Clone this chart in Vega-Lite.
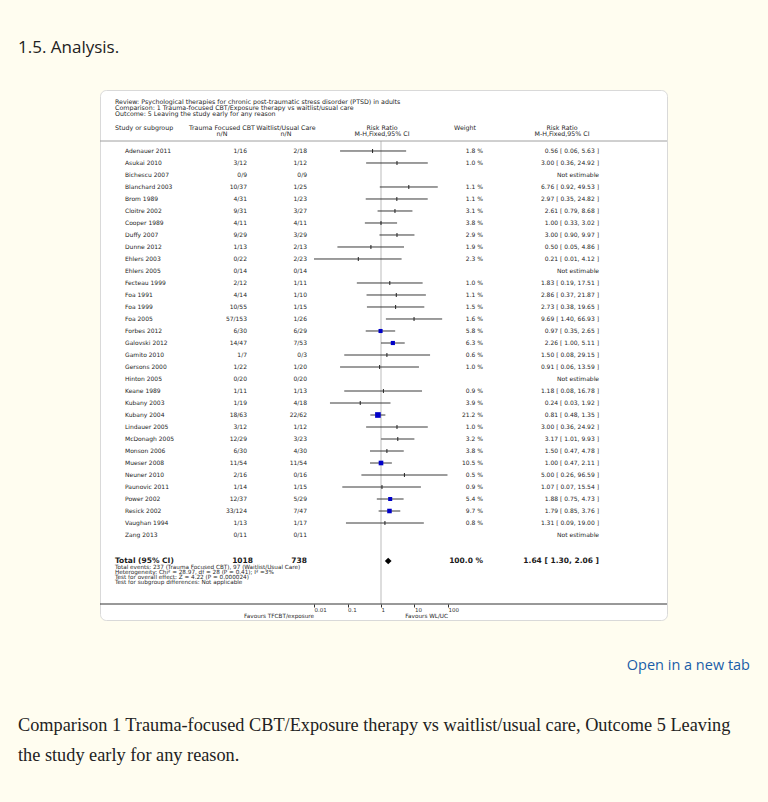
{
  "$schema": "https://vega.github.io/schema/vega-lite/v6.json",
  "background": "#fffdf0",
  "padding": {"top": 38, "left": 0, "right": 0, "bottom": 0},
  "title": {"text": "1.5. Analysis.", "anchor": "start", "dx": 18, "offset": 33, "font": "Open Sans", "fontSize": 17, "fontWeight": "normal", "color": "#222222"},
  "spacing": 0,
  "center": true,
  "config": {"view": {"stroke": null}, "text": {"font": "DejaVu Sans"}},
  "datasets": {
    "studies": [
      {"line": 1, "study": "Adenauer 2011", "tf": "1/16", "wl": "2/18", "rr": 0.56, "lo": 0.06, "hi": 5.63, "wt": 1.8, "wtxt": "1.8 %", "ci": "0.56 [ 0.06, 5.63 ]"},
      {"line": 2, "study": "Asukai 2010", "tf": "3/12", "wl": "1/12", "rr": 3.00, "lo": 0.36, "hi": 24.92, "wt": 1.0, "wtxt": "1.0 %", "ci": "3.00 [ 0.36, 24.92 ]"},
      {"line": 3, "study": "Bichescu 2007", "tf": "0/9", "wl": "0/9", "rr": null, "lo": null, "hi": null, "wt": null, "wtxt": "", "ci": "Not estimable"},
      {"line": 4, "study": "Blanchard 2003", "tf": "10/37", "wl": "1/25", "rr": 6.76, "lo": 0.92, "hi": 49.53, "wt": 1.1, "wtxt": "1.1 %", "ci": "6.76 [ 0.92, 49.53 ]"},
      {"line": 5, "study": "Brom 1989", "tf": "4/31", "wl": "1/23", "rr": 2.97, "lo": 0.35, "hi": 24.82, "wt": 1.1, "wtxt": "1.1 %", "ci": "2.97 [ 0.35, 24.82 ]"},
      {"line": 6, "study": "Cloitre 2002", "tf": "9/31", "wl": "3/27", "rr": 2.61, "lo": 0.79, "hi": 8.68, "wt": 3.1, "wtxt": "3.1 %", "ci": "2.61 [ 0.79, 8.68 ]"},
      {"line": 7, "study": "Cooper 1989", "tf": "4/11", "wl": "4/11", "rr": 1.00, "lo": 0.33, "hi": 3.02, "wt": 3.8, "wtxt": "3.8 %", "ci": "1.00 [ 0.33, 3.02 ]"},
      {"line": 8, "study": "Duffy 2007", "tf": "9/29", "wl": "3/29", "rr": 3.00, "lo": 0.90, "hi": 9.97, "wt": 2.9, "wtxt": "2.9 %", "ci": "3.00 [ 0.90, 9.97 ]"},
      {"line": 9, "study": "Dunne 2012", "tf": "1/13", "wl": "2/13", "rr": 0.50, "lo": 0.05, "hi": 4.86, "wt": 1.9, "wtxt": "1.9 %", "ci": "0.50 [ 0.05, 4.86 ]"},
      {"line": 10, "study": "Ehlers 2003", "tf": "0/22", "wl": "2/23", "rr": 0.21, "lo": 0.01, "hi": 4.12, "wt": 2.3, "wtxt": "2.3 %", "ci": "0.21 [ 0.01, 4.12 ]"},
      {"line": 11, "study": "Ehlers 2005", "tf": "0/14", "wl": "0/14", "rr": null, "lo": null, "hi": null, "wt": null, "wtxt": "", "ci": "Not estimable"},
      {"line": 12, "study": "Fecteau 1999", "tf": "2/12", "wl": "1/11", "rr": 1.83, "lo": 0.19, "hi": 17.51, "wt": 1.0, "wtxt": "1.0 %", "ci": "1.83 [ 0.19, 17.51 ]"},
      {"line": 13, "study": "Foa 1991", "tf": "4/14", "wl": "1/10", "rr": 2.86, "lo": 0.37, "hi": 21.87, "wt": 1.1, "wtxt": "1.1 %", "ci": "2.86 [ 0.37, 21.87 ]"},
      {"line": 14, "study": "Foa 1999", "tf": "10/55", "wl": "1/15", "rr": 2.73, "lo": 0.38, "hi": 19.65, "wt": 1.5, "wtxt": "1.5 %", "ci": "2.73 [ 0.38, 19.65 ]"},
      {"line": 15, "study": "Foa 2005", "tf": "57/153", "wl": "1/26", "rr": 9.69, "lo": 1.40, "hi": 66.93, "wt": 1.6, "wtxt": "1.6 %", "ci": "9.69 [ 1.40, 66.93 ]"},
      {"line": 16, "study": "Forbes 2012", "tf": "6/30", "wl": "6/29", "rr": 0.97, "lo": 0.35, "hi": 2.65, "wt": 5.8, "wtxt": "5.8 %", "ci": "0.97 [ 0.35, 2.65 ]"},
      {"line": 17, "study": "Galovski 2012", "tf": "14/47", "wl": "7/53", "rr": 2.26, "lo": 1.00, "hi": 5.11, "wt": 6.3, "wtxt": "6.3 %", "ci": "2.26 [ 1.00, 5.11 ]"},
      {"line": 18, "study": "Gamito 2010", "tf": "1/7", "wl": "0/3", "rr": 1.50, "lo": 0.08, "hi": 29.15, "wt": 0.6, "wtxt": "0.6 %", "ci": "1.50 [ 0.08, 29.15 ]"},
      {"line": 19, "study": "Gersons 2000", "tf": "1/22", "wl": "1/20", "rr": 0.91, "lo": 0.06, "hi": 13.59, "wt": 1.0, "wtxt": "1.0 %", "ci": "0.91 [ 0.06, 13.59 ]"},
      {"line": 20, "study": "Hinton 2005", "tf": "0/20", "wl": "0/20", "rr": null, "lo": null, "hi": null, "wt": null, "wtxt": "", "ci": "Not estimable"},
      {"line": 21, "study": "Keane 1989", "tf": "1/11", "wl": "1/13", "rr": 1.18, "lo": 0.08, "hi": 16.78, "wt": 0.9, "wtxt": "0.9 %", "ci": "1.18 [ 0.08, 16.78 ]"},
      {"line": 22, "study": "Kubany 2003", "tf": "1/19", "wl": "4/18", "rr": 0.24, "lo": 0.03, "hi": 1.92, "wt": 3.9, "wtxt": "3.9 %", "ci": "0.24 [ 0.03, 1.92 ]"},
      {"line": 23, "study": "Kubany 2004", "tf": "18/63", "wl": "22/62", "rr": 0.81, "lo": 0.48, "hi": 1.35, "wt": 21.2, "wtxt": "21.2 %", "ci": "0.81 [ 0.48, 1.35 ]"},
      {"line": 24, "study": "Lindauer 2005", "tf": "3/12", "wl": "1/12", "rr": 3.00, "lo": 0.36, "hi": 24.92, "wt": 1.0, "wtxt": "1.0 %", "ci": "3.00 [ 0.36, 24.92 ]"},
      {"line": 25, "study": "McDonagh 2005", "tf": "12/29", "wl": "3/23", "rr": 3.17, "lo": 1.01, "hi": 9.93, "wt": 3.2, "wtxt": "3.2 %", "ci": "3.17 [ 1.01, 9.93 ]"},
      {"line": 26, "study": "Monson 2006", "tf": "6/30", "wl": "4/30", "rr": 1.50, "lo": 0.47, "hi": 4.78, "wt": 3.8, "wtxt": "3.8 %", "ci": "1.50 [ 0.47, 4.78 ]"},
      {"line": 27, "study": "Mueser 2008", "tf": "11/54", "wl": "11/54", "rr": 1.00, "lo": 0.47, "hi": 2.11, "wt": 10.5, "wtxt": "10.5 %", "ci": "1.00 [ 0.47, 2.11 ]"},
      {"line": 28, "study": "Neuner 2010", "tf": "2/16", "wl": "0/16", "rr": 5.00, "lo": 0.26, "hi": 96.59, "wt": 0.5, "wtxt": "0.5 %", "ci": "5.00 [ 0.26, 96.59 ]"},
      {"line": 29, "study": "Paunovic 2011", "tf": "1/14", "wl": "1/15", "rr": 1.07, "lo": 0.07, "hi": 15.54, "wt": 0.9, "wtxt": "0.9 %", "ci": "1.07 [ 0.07, 15.54 ]"},
      {"line": 30, "study": "Power 2002", "tf": "12/37", "wl": "5/29", "rr": 1.88, "lo": 0.75, "hi": 4.73, "wt": 5.4, "wtxt": "5.4 %", "ci": "1.88 [ 0.75, 4.73 ]"},
      {"line": 31, "study": "Resick 2002", "tf": "33/124", "wl": "7/47", "rr": 1.79, "lo": 0.85, "hi": 3.76, "wt": 9.7, "wtxt": "9.7 %", "ci": "1.79 [ 0.85, 3.76 ]"},
      {"line": 32, "study": "Vaughan 1994", "tf": "1/13", "wl": "1/17", "rr": 1.31, "lo": 0.09, "hi": 19.00, "wt": 0.8, "wtxt": "0.8 %", "ci": "1.31 [ 0.09, 19.00 ]"},
      {"line": 33, "study": "Zang 2013", "tf": "0/11", "wl": "0/11", "rr": null, "lo": null, "hi": null, "wt": null, "wtxt": "", "ci": "Not estimable"}
    ],
    "page": [
      {"line": 1.5, "kind": "link", "text": "Open in a new tab"},
      {"line": 3.5, "kind": "caption", "text": "Comparison 1 Trauma-focused CBT/Exposure therapy vs waitlist/usual care, Outcome 5 Leaving"},
      {"line": 4.5, "kind": "caption", "text": "the study early for any reason."}
    ]
  },
  "vconcat": [
    {
      "width": 567,
      "height": 530,
      "view": {"fill": "#ffffff", "stroke": "#d9d9d9", "cornerRadius": 6},
      "layer": [
        {
          "data": {"values": [{}]},
          "mark": {"type": "rule", "color": "#dddddd", "strokeWidth": 2},
          "encoding": {
            "x": {"datum": 1, "type": "quantitative", "scale": {"type": "log", "domain": [0.01, 100], "range": [214, 348]}, "axis": {"values": [0.01, 0.1, 1, 10, 100], "format": "~g", "domain": false, "grid": false, "ticks": true, "tickSize": 3, "tickColor": "#333333", "labelFont": "DejaVu Sans", "labelFontSize": 5.5, "labelColor": "#333333", "labelPadding": 0, "labelBaseline": "top", "labelAlign": "left", "labelFlush": false, "labelOverlap": false, "title": null, "offset": -16}},
            "y": {"datum": 0.1667, "type": "quantitative", "scale": {"type": "linear", "domain": [-4.0833, 40.0833], "reverse": true, "nice": false, "zero": false}, "axis": null},
            "y2": {"datum": 38.75}
          }
        },
        {
          "data": {"values": [{"line": 0.1667}, {"line": 38.75}]},
          "mark": {"type": "rule", "strokeWidth": 1},
          "encoding": {
            "y": {"field": "line", "type": "quantitative", "axis": null},
            "color": {"field": "line", "type": "ordinal", "scale": {"range": ["#a0a0a0", "#333333"]}, "legend": null}
          }
        },
        {
          "data": {"name": "studies"},
          "transform": [{"filter": "isValid(datum.lo)"}],
          "mark": {"type": "rule", "color": "#3a3a3a", "strokeWidth": 1},
          "encoding": {
            "x": {"field": "lo", "type": "quantitative", "scale": {"type": "log", "domain": [0.01, 100], "range": [214, 348]}, "axis": {"values": [0.01, 0.1, 1, 10, 100], "format": "~g", "domain": false, "grid": false, "ticks": true, "tickSize": 3, "tickColor": "#333333", "labelFont": "DejaVu Sans", "labelFontSize": 5.5, "labelColor": "#333333", "labelPadding": 0, "labelBaseline": "top", "labelAlign": "left", "labelFlush": false, "labelOverlap": false, "title": null, "offset": -16}},
            "x2": {"field": "hi"},
            "y": {"field": "line", "type": "quantitative", "axis": null}
          }
        },
        {
          "data": {"name": "studies"},
          "transform": [{"filter": "isValid(datum.wt) && datum.wt < 5"}],
          "mark": {"type": "tick", "orient": "vertical", "size": 4, "thickness": 1, "color": "#222222", "opacity": 1},
          "encoding": {
            "x": {"field": "rr", "type": "quantitative", "scale": {"type": "log", "domain": [0.01, 100], "range": [214, 348]}, "axis": {"values": [0.01, 0.1, 1, 10, 100], "format": "~g", "domain": false, "grid": false, "ticks": true, "tickSize": 3, "tickColor": "#333333", "labelFont": "DejaVu Sans", "labelFontSize": 5.5, "labelColor": "#333333", "labelPadding": 0, "labelBaseline": "top", "labelAlign": "left", "labelFlush": false, "labelOverlap": false, "title": null, "offset": -16}},
            "y": {"field": "line", "type": "quantitative", "axis": null}
          }
        },
        {
          "data": {"name": "studies"},
          "transform": [{"filter": "isValid(datum.wt) && datum.wt >= 5"}],
          "mark": {"type": "point", "shape": "square", "filled": true, "color": "#0000c8", "opacity": 1},
          "encoding": {
            "x": {"field": "rr", "type": "quantitative", "scale": {"type": "log", "domain": [0.01, 100], "range": [214, 348]}, "axis": {"values": [0.01, 0.1, 1, 10, 100], "format": "~g", "domain": false, "grid": false, "ticks": true, "tickSize": 3, "tickColor": "#333333", "labelFont": "DejaVu Sans", "labelFontSize": 5.5, "labelColor": "#333333", "labelPadding": 0, "labelBaseline": "top", "labelAlign": "left", "labelFlush": false, "labelOverlap": false, "title": null, "offset": -16}},
            "y": {"field": "line", "type": "quantitative", "axis": null},
            "size": {"field": "wt", "type": "quantitative", "scale": {"domain": [5, 21.2], "range": [16, 32]}, "legend": null}
          }
        },
        {
          "data": {"values": [{"line": 35.167, "rr": 1.64}]},
          "mark": {"type": "point", "shape": "diamond", "filled": true, "color": "#000000", "size": 45, "opacity": 1},
          "encoding": {
            "x": {"field": "rr", "type": "quantitative", "scale": {"type": "log", "domain": [0.01, 100], "range": [214, 348]}, "axis": {"values": [0.01, 0.1, 1, 10, 100], "format": "~g", "domain": false, "grid": false, "ticks": true, "tickSize": 3, "tickColor": "#333333", "labelFont": "DejaVu Sans", "labelFontSize": 5.5, "labelColor": "#333333", "labelPadding": 0, "labelBaseline": "top", "labelAlign": "left", "labelFlush": false, "labelOverlap": false, "title": null, "offset": -16}},
            "y": {"field": "line", "type": "quantitative", "axis": null}
          }
        },
        {
          "data": {"name": "studies"},
          "mark": {"type": "text", "align": "left", "baseline": "middle", "fontSize": 6, "color": "#262626"},
          "encoding": {"x": {"value": 25}, "y": {"field": "line", "type": "quantitative", "axis": null}, "text": {"field": "study"}}
        },
        {
          "data": {"name": "studies"},
          "mark": {"type": "text", "align": "right", "baseline": "middle", "fontSize": 6, "color": "#262626"},
          "encoding": {"x": {"value": 147}, "y": {"field": "line", "type": "quantitative", "axis": null}, "text": {"field": "tf"}}
        },
        {
          "data": {"name": "studies"},
          "mark": {"type": "text", "align": "right", "baseline": "middle", "fontSize": 6, "color": "#262626"},
          "encoding": {"x": {"value": 207}, "y": {"field": "line", "type": "quantitative", "axis": null}, "text": {"field": "wl"}}
        },
        {
          "data": {"name": "studies"},
          "mark": {"type": "text", "align": "right", "baseline": "middle", "fontSize": 6, "color": "#262626"},
          "encoding": {"x": {"value": 383}, "y": {"field": "line", "type": "quantitative", "axis": null}, "text": {"field": "wtxt"}}
        },
        {
          "data": {"name": "studies"},
          "mark": {"type": "text", "align": "right", "baseline": "middle", "fontSize": 6, "color": "#262626"},
          "encoding": {"x": {"value": 499}, "y": {"field": "line", "type": "quantitative", "axis": null}, "text": {"field": "ci"}}
        },
        {
          "data": {"values": [
            {"line": -3.083, "text": "Review:  Psychological therapies for chronic post-traumatic stress disorder (PTSD) in adults"},
            {"line": -2.583, "text": "Comparison:  1 Trauma-focused CBT/Exposure therapy vs waitlist/usual care"},
            {"line": -2.083, "text": "Outcome:  5 Leaving the study early for any reason"},
            {"line": -0.917, "text": "Study or subgroup"}
          ]},
          "mark": {"type": "text", "align": "left", "baseline": "middle", "fontSize": 6.3, "color": "#262626"},
          "encoding": {"x": {"value": 15}, "y": {"field": "line", "type": "quantitative", "axis": null}, "text": {"field": "text"}}
        },
        {
          "data": {"values": [
            {"line": 35.667, "text": "Total events: 237 (Trauma Focused CBT), 97 (Waitlist/Usual Care)"},
            {"line": 36.083, "text": "Heterogeneity: Chi² = 28.97, df = 28 (P = 0.41); I² =3%"},
            {"line": 36.5, "text": "Test for overall effect: Z = 4.22 (P = 0.000024)"},
            {"line": 36.917, "text": "Test for subgroup differences: Not applicable"}
          ]},
          "mark": {"type": "text", "align": "left", "baseline": "middle", "fontSize": 5.7, "color": "#262626"},
          "encoding": {"x": {"value": 15}, "y": {"field": "line", "type": "quantitative", "axis": null}, "text": {"field": "text"}}
        },
        {
          "data": {"values": [{"line": -0.917, "text": "Trauma Focused CBT"}, {"line": -0.417, "text": "n/N"}]},
          "mark": {"type": "text", "align": "center", "baseline": "middle", "fontSize": 6.3, "color": "#262626"},
          "encoding": {"x": {"value": 122}, "y": {"field": "line", "type": "quantitative", "axis": null}, "text": {"field": "text"}}
        },
        {
          "data": {"values": [{"line": -0.917, "text": "Waitlist/Usual Care"}, {"line": -0.417, "text": "n/N"}]},
          "mark": {"type": "text", "align": "center", "baseline": "middle", "fontSize": 6.3, "color": "#262626"},
          "encoding": {"x": {"value": 186}, "y": {"field": "line", "type": "quantitative", "axis": null}, "text": {"field": "text"}}
        },
        {
          "data": {"values": [{"line": -0.917, "text": "Risk Ratio"}, {"line": -0.417, "text": "M-H,Fixed,95% CI"}]},
          "mark": {"type": "text", "align": "center", "baseline": "middle", "fontSize": 6.3, "color": "#262626"},
          "encoding": {"x": {"value": 282}, "y": {"field": "line", "type": "quantitative", "axis": null}, "text": {"field": "text"}}
        },
        {
          "data": {"values": [{"line": -0.917, "text": "Weight"}]},
          "mark": {"type": "text", "align": "center", "baseline": "middle", "fontSize": 6.3, "color": "#262626"},
          "encoding": {"x": {"value": 365}, "y": {"field": "line", "type": "quantitative", "axis": null}, "text": {"field": "text"}}
        },
        {
          "data": {"values": [{"line": -0.917, "text": "Risk Ratio"}, {"line": -0.417, "text": "M-H,Fixed,95% CI"}]},
          "mark": {"type": "text", "align": "center", "baseline": "middle", "fontSize": 6.3, "color": "#262626"},
          "encoding": {"x": {"value": 462}, "y": {"field": "line", "type": "quantitative", "axis": null}, "text": {"field": "text"}}
        },
        {
          "data": {"values": [{"line": 35.167, "text": "Total (95% CI)"}]},
          "mark": {"type": "text", "align": "left", "baseline": "middle", "fontSize": 7.5, "fontWeight": "bold", "color": "#1a1a1a"},
          "encoding": {"x": {"value": 15}, "y": {"field": "line", "type": "quantitative", "axis": null}, "text": {"field": "text"}}
        },
        {
          "data": {"values": [{"line": 35.167, "text": "1018"}]},
          "mark": {"type": "text", "align": "right", "baseline": "middle", "fontSize": 7.5, "fontWeight": "bold", "color": "#1a1a1a"},
          "encoding": {"x": {"value": 153}, "y": {"field": "line", "type": "quantitative", "axis": null}, "text": {"field": "text"}}
        },
        {
          "data": {"values": [{"line": 35.167, "text": "738"}]},
          "mark": {"type": "text", "align": "right", "baseline": "middle", "fontSize": 7.5, "fontWeight": "bold", "color": "#1a1a1a"},
          "encoding": {"x": {"value": 207}, "y": {"field": "line", "type": "quantitative", "axis": null}, "text": {"field": "text"}}
        },
        {
          "data": {"values": [{"line": 35.167, "text": "100.0 %"}]},
          "mark": {"type": "text", "align": "right", "baseline": "middle", "fontSize": 7.5, "fontWeight": "bold", "color": "#1a1a1a"},
          "encoding": {"x": {"value": 383}, "y": {"field": "line", "type": "quantitative", "axis": null}, "text": {"field": "text"}}
        },
        {
          "data": {"values": [{"line": 35.167, "text": "1.64 [ 1.30, 2.06 ]"}]},
          "mark": {"type": "text", "align": "right", "baseline": "middle", "fontSize": 7.5, "fontWeight": "bold", "color": "#1a1a1a"},
          "encoding": {"x": {"value": 499}, "y": {"field": "line", "type": "quantitative", "axis": null}, "text": {"field": "text"}}
        },
        {
          "data": {"values": [{"line": 39.75, "rr": 0.01, "text": "Favours TFCBT/exposure"}, {"line": 39.75, "rr": 100, "text": "Favours WL/UC"}]},
          "mark": {"type": "text", "align": "right", "baseline": "middle", "fontSize": 5.7, "color": "#262626"},
          "encoding": {
            "x": {"field": "rr", "type": "quantitative", "scale": {"type": "log", "domain": [0.01, 100], "range": [214, 348]}, "axis": {"values": [0.01, 0.1, 1, 10, 100], "format": "~g", "domain": false, "grid": false, "ticks": true, "tickSize": 3, "tickColor": "#333333", "labelFont": "DejaVu Sans", "labelFontSize": 5.5, "labelColor": "#333333", "labelPadding": 0, "labelBaseline": "top", "labelAlign": "left", "labelFlush": false, "labelOverlap": false, "title": null, "offset": -16}},
            "y": {"field": "line", "type": "quantitative", "axis": null},
            "text": {"field": "text"}
          }
        }
      ]
    },
    {
      "width": 768,
      "height": 184,
      "data": {"name": "page"},
      "layer": [
        {
          "transform": [{"filter": "datum.kind == 'link'"}],
          "mark": {"type": "text", "align": "right", "baseline": "middle", "font": "Open Sans", "fontSize": 14.5, "color": "#1a5ea8"},
          "encoding": {
            "x": {"value": 750},
            "y": {"field": "line", "type": "quantitative", "scale": {"domain": [0, 6.1333], "reverse": true, "nice": false, "zero": false}, "axis": null},
            "text": {"field": "text"}
          }
        },
        {
          "transform": [{"filter": "datum.kind == 'caption'"}],
          "mark": {"type": "text", "align": "left", "baseline": "middle", "font": "Liberation Serif", "fontSize": 18.3, "color": "#222222"},
          "encoding": {
            "x": {"value": 18},
            "y": {"field": "line", "type": "quantitative", "axis": null},
            "text": {"field": "text"}
          }
        }
      ]
    }
  ]
}
